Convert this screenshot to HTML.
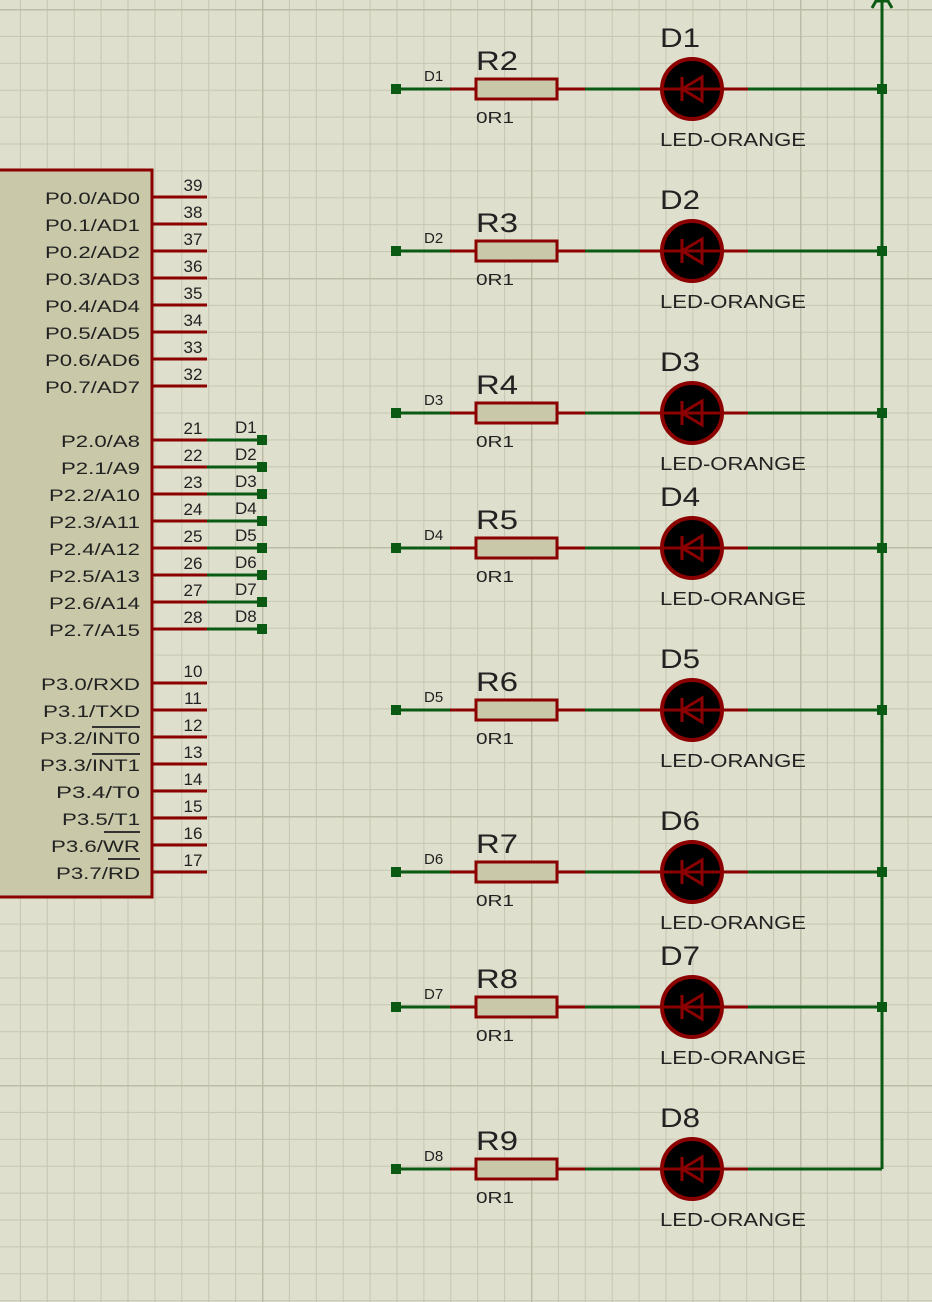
<!DOCTYPE html>
<html><head><meta charset="utf-8"><style>
html,body{margin:0;padding:0;background:#dfdfcd;}
svg{display:block;}
text{font-family:"Liberation Sans",sans-serif;fill:#222;}
</style></head><body>
<svg width="932" height="1302" viewBox="0 0 932 1302" xmlns="http://www.w3.org/2000/svg">
<defs>
<pattern id="mi" patternUnits="userSpaceOnUse" width="26.9" height="26.9" x="262" y="278">
<rect width="26.9" height="26.9" fill="#dfdfcd"/>
<line x1="0" y1="0" x2="26.9" y2="0" stroke="#c6c6b2" stroke-width="2"/>
<line x1="0" y1="0" x2="0" y2="26.9" stroke="#c6c6b2" stroke-width="2"/>
</pattern>
<pattern id="ma" patternUnits="userSpaceOnUse" width="269" height="269" x="262" y="278">
<line x1="0" y1="0" x2="269" y2="0" stroke="#bcbca6" stroke-width="3"/>
<line x1="0" y1="0" x2="0" y2="269" stroke="#bcbca6" stroke-width="3"/>
</pattern>
<g id="led">
<line x1="391" y1="0" x2="450" y2="0" stroke="#0b5a14" stroke-width="3"/>
<rect x="391" y="-5" width="10" height="10" fill="#0b5a14"/>
<line x1="450" y1="0" x2="476" y2="0" stroke="#8b0000" stroke-width="3"/>
<rect x="476" y="-10" width="81" height="20" fill="#c9c9aa" stroke="#8b0000" stroke-width="3"/>
<line x1="557" y1="0" x2="585" y2="0" stroke="#8b0000" stroke-width="3"/>
<line x1="585" y1="0" x2="640" y2="0" stroke="#0b5a14" stroke-width="3"/>
<line x1="640" y1="0" x2="748" y2="0" stroke="#8b0000" stroke-width="3"/>
<circle cx="692" cy="0" r="30" fill="#000" stroke="#8b0000" stroke-width="4"/>
<line x1="662" y1="0" x2="722" y2="0" stroke="#8b0000" stroke-width="3"/>
<line x1="682" y1="-12" x2="682" y2="12" stroke="#8b0000" stroke-width="3"/>
<polygon points="682,0 702,-12 702,12" fill="none" stroke="#8b0000" stroke-width="3"/>
<line x1="748" y1="0" x2="882" y2="0" stroke="#0b5a14" stroke-width="3"/>
</g>
</defs>
<rect width="932" height="1302" fill="url(#mi)"/>
<rect width="932" height="1302" fill="url(#ma)"/>

<!-- chip -->
<rect x="-5" y="170" width="157" height="727" fill="#c9c9aa" stroke="#8b0000" stroke-width="3"/>
<g stroke="#8b0000" stroke-width="3">
<line x1="152" y1="197" x2="207" y2="197"/><line x1="152" y1="224" x2="207" y2="224"/>
<line x1="152" y1="251" x2="207" y2="251"/><line x1="152" y1="278" x2="207" y2="278"/>
<line x1="152" y1="305" x2="207" y2="305"/><line x1="152" y1="332" x2="207" y2="332"/>
<line x1="152" y1="359" x2="207" y2="359"/><line x1="152" y1="386" x2="207" y2="386"/>
<line x1="152" y1="440" x2="207" y2="440"/><line x1="152" y1="467" x2="207" y2="467"/>
<line x1="152" y1="494" x2="207" y2="494"/><line x1="152" y1="521" x2="207" y2="521"/>
<line x1="152" y1="548" x2="207" y2="548"/><line x1="152" y1="575" x2="207" y2="575"/>
<line x1="152" y1="602" x2="207" y2="602"/><line x1="152" y1="629" x2="207" y2="629"/>
<line x1="152" y1="683" x2="207" y2="683"/><line x1="152" y1="710" x2="207" y2="710"/>
<line x1="152" y1="737" x2="207" y2="737"/><line x1="152" y1="764" x2="207" y2="764"/>
<line x1="152" y1="791" x2="207" y2="791"/><line x1="152" y1="818" x2="207" y2="818"/>
<line x1="152" y1="845" x2="207" y2="845"/><line x1="152" y1="872" x2="207" y2="872"/>
</g>
<g stroke="#0b5a14" stroke-width="3">
<line x1="207" y1="440" x2="262" y2="440"/><line x1="207" y1="467" x2="262" y2="467"/>
<line x1="207" y1="494" x2="262" y2="494"/><line x1="207" y1="521" x2="262" y2="521"/>
<line x1="207" y1="548" x2="262" y2="548"/><line x1="207" y1="575" x2="262" y2="575"/>
<line x1="207" y1="602" x2="262" y2="602"/><line x1="207" y1="629" x2="262" y2="629"/>
</g>
<g fill="#0b5a14">
<rect x="257" y="435" width="10" height="10"/><rect x="257" y="462" width="10" height="10"/>
<rect x="257" y="489" width="10" height="10"/><rect x="257" y="516" width="10" height="10"/>
<rect x="257" y="543" width="10" height="10"/><rect x="257" y="570" width="10" height="10"/>
<rect x="257" y="597" width="10" height="10"/><rect x="257" y="624" width="10" height="10"/>
</g>
<g font-size="17" text-anchor="end">
<text x="140" y="204" textLength="95" lengthAdjust="spacingAndGlyphs">P0.0/AD0</text><text x="140" y="231" textLength="95" lengthAdjust="spacingAndGlyphs">P0.1/AD1</text>
<text x="140" y="258" textLength="95" lengthAdjust="spacingAndGlyphs">P0.2/AD2</text><text x="140" y="285" textLength="95" lengthAdjust="spacingAndGlyphs">P0.3/AD3</text>
<text x="140" y="312" textLength="95" lengthAdjust="spacingAndGlyphs">P0.4/AD4</text><text x="140" y="339" textLength="95" lengthAdjust="spacingAndGlyphs">P0.5/AD5</text>
<text x="140" y="366" textLength="95" lengthAdjust="spacingAndGlyphs">P0.6/AD6</text><text x="140" y="393" textLength="95" lengthAdjust="spacingAndGlyphs">P0.7/AD7</text>
<text x="140" y="447" textLength="79" lengthAdjust="spacingAndGlyphs">P2.0/A8</text><text x="140" y="474" textLength="79" lengthAdjust="spacingAndGlyphs">P2.1/A9</text>
<text x="140" y="501" textLength="91" lengthAdjust="spacingAndGlyphs">P2.2/A10</text><text x="140" y="528" textLength="91" lengthAdjust="spacingAndGlyphs">P2.3/A11</text>
<text x="140" y="555" textLength="91" lengthAdjust="spacingAndGlyphs">P2.4/A12</text><text x="140" y="582" textLength="91" lengthAdjust="spacingAndGlyphs">P2.5/A13</text>
<text x="140" y="609" textLength="91" lengthAdjust="spacingAndGlyphs">P2.6/A14</text><text x="140" y="636" textLength="91" lengthAdjust="spacingAndGlyphs">P2.7/A15</text>
<text x="140" y="690" textLength="99" lengthAdjust="spacingAndGlyphs">P3.0/RXD</text><text x="140" y="717" textLength="97" lengthAdjust="spacingAndGlyphs">P3.1/TXD</text>
<text x="140" y="744" textLength="100" lengthAdjust="spacingAndGlyphs">P3.2/INT0</text><text x="140" y="771" textLength="100" lengthAdjust="spacingAndGlyphs">P3.3/INT1</text>
<text x="140" y="798" textLength="84" lengthAdjust="spacingAndGlyphs">P3.4/T0</text><text x="140" y="825" textLength="78" lengthAdjust="spacingAndGlyphs">P3.5/T1</text>
<text x="140" y="852" textLength="89" lengthAdjust="spacingAndGlyphs">P3.6/WR</text><text x="140" y="879" textLength="84" lengthAdjust="spacingAndGlyphs">P3.7/RD</text>
</g>
<g stroke="#333" stroke-width="2">
<line x1="92" y1="727" x2="140" y2="727"/><line x1="92" y1="754" x2="140" y2="754"/>
<line x1="104" y1="832" x2="140" y2="832"/><line x1="108" y1="859" x2="140" y2="859"/>
</g>
<g font-size="17" text-anchor="middle">
<text x="193" y="191">39</text><text x="193" y="218">38</text><text x="193" y="245">37</text><text x="193" y="272">36</text>
<text x="193" y="299">35</text><text x="193" y="326">34</text><text x="193" y="353">33</text><text x="193" y="380">32</text>
<text x="193" y="434">21</text><text x="193" y="461">22</text><text x="193" y="488">23</text><text x="193" y="515">24</text>
<text x="193" y="542">25</text><text x="193" y="569">26</text><text x="193" y="596">27</text><text x="193" y="623">28</text>
<text x="193" y="677">10</text><text x="193" y="704">11</text><text x="193" y="731">12</text><text x="193" y="758">13</text>
<text x="193" y="785">14</text><text x="193" y="812">15</text><text x="193" y="839">16</text><text x="193" y="866">17</text>
</g>
<g font-size="17">
<text x="235" y="433">D1</text><text x="235" y="460">D2</text><text x="235" y="487">D3</text><text x="235" y="514">D4</text>
<text x="235" y="541">D5</text><text x="235" y="568">D6</text><text x="235" y="595">D7</text><text x="235" y="622">D8</text>
</g>

<!-- bus -->
<line x1="882" y1="0" x2="882" y2="1169" stroke="#0b5a14" stroke-width="3"/>
<polyline points="872,8 876,1 888,1 892,8" fill="none" stroke="#0b5a14" stroke-width="3"/>

<use href="#led" y="89"/><use href="#led" y="251"/><use href="#led" y="413"/><use href="#led" y="548"/>
<use href="#led" y="710"/><use href="#led" y="872"/><use href="#led" y="1007"/><use href="#led" y="1169"/>
<g fill="#0b5a14">
<rect x="877" y="84" width="10" height="10"/><rect x="877" y="246" width="10" height="10"/>
<rect x="877" y="408" width="10" height="10"/><rect x="877" y="543" width="10" height="10"/>
<rect x="877" y="705" width="10" height="10"/><rect x="877" y="867" width="10" height="10"/>
<rect x="877" y="1002" width="10" height="10"/>
</g>

<g font-size="15">
<text x="424" y="81">D1</text><text x="424" y="243">D2</text><text x="424" y="405">D3</text><text x="424" y="540">D4</text>
<text x="424" y="702">D5</text><text x="424" y="864">D6</text><text x="424" y="999">D7</text><text x="424" y="1161">D8</text>
</g>
<g font-size="27">
<text x="476" y="70" textLength="42" lengthAdjust="spacingAndGlyphs">R2</text><text x="476" y="232" textLength="42" lengthAdjust="spacingAndGlyphs">R3</text><text x="476" y="394" textLength="42" lengthAdjust="spacingAndGlyphs">R4</text><text x="476" y="529" textLength="42" lengthAdjust="spacingAndGlyphs">R5</text>
<text x="476" y="691" textLength="42" lengthAdjust="spacingAndGlyphs">R6</text><text x="476" y="853" textLength="42" lengthAdjust="spacingAndGlyphs">R7</text><text x="476" y="988" textLength="42" lengthAdjust="spacingAndGlyphs">R8</text><text x="476" y="1150" textLength="42" lengthAdjust="spacingAndGlyphs">R9</text>
<text x="660" y="47" textLength="40" lengthAdjust="spacingAndGlyphs">D1</text><text x="660" y="209" textLength="40" lengthAdjust="spacingAndGlyphs">D2</text><text x="660" y="371" textLength="40" lengthAdjust="spacingAndGlyphs">D3</text><text x="660" y="506" textLength="40" lengthAdjust="spacingAndGlyphs">D4</text>
<text x="660" y="668" textLength="40" lengthAdjust="spacingAndGlyphs">D5</text><text x="660" y="830" textLength="40" lengthAdjust="spacingAndGlyphs">D6</text><text x="660" y="965" textLength="40" lengthAdjust="spacingAndGlyphs">D7</text><text x="660" y="1127" textLength="40" lengthAdjust="spacingAndGlyphs">D8</text>
</g>
<g font-size="16">
<text x="476" y="123" textLength="38" lengthAdjust="spacingAndGlyphs">0R1</text><text x="476" y="285" textLength="38" lengthAdjust="spacingAndGlyphs">0R1</text><text x="476" y="447" textLength="38" lengthAdjust="spacingAndGlyphs">0R1</text><text x="476" y="582" textLength="38" lengthAdjust="spacingAndGlyphs">0R1</text>
<text x="476" y="744" textLength="38" lengthAdjust="spacingAndGlyphs">0R1</text><text x="476" y="906" textLength="38" lengthAdjust="spacingAndGlyphs">0R1</text><text x="476" y="1041" textLength="38" lengthAdjust="spacingAndGlyphs">0R1</text><text x="476" y="1203" textLength="38" lengthAdjust="spacingAndGlyphs">0R1</text>
</g>
<g font-size="18">
<text x="660" y="146" textLength="146" lengthAdjust="spacingAndGlyphs">LED-ORANGE</text><text x="660" y="308" textLength="146" lengthAdjust="spacingAndGlyphs">LED-ORANGE</text><text x="660" y="470" textLength="146" lengthAdjust="spacingAndGlyphs">LED-ORANGE</text><text x="660" y="605" textLength="146" lengthAdjust="spacingAndGlyphs">LED-ORANGE</text>
<text x="660" y="767" textLength="146" lengthAdjust="spacingAndGlyphs">LED-ORANGE</text><text x="660" y="929" textLength="146" lengthAdjust="spacingAndGlyphs">LED-ORANGE</text><text x="660" y="1064" textLength="146" lengthAdjust="spacingAndGlyphs">LED-ORANGE</text><text x="660" y="1226" textLength="146" lengthAdjust="spacingAndGlyphs">LED-ORANGE</text>
</g>
</svg>
</body></html>
